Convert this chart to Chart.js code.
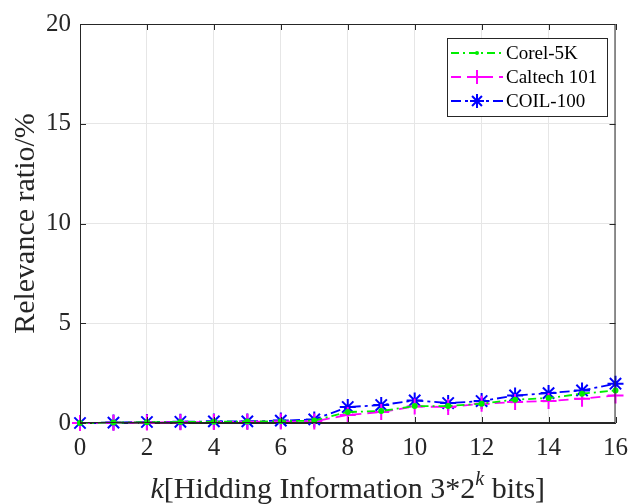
<!DOCTYPE html>
<html>
<head>
<meta charset="utf-8">
<script src="https://cdn.jsdelivr.net/npm/chart.js@4/dist/chart.umd.min.js"></script>
<style>
  html, body { margin: 0; padding: 0; background: #fff; }
  #wrap { width: 638px; height: 504px; }
</style>
</head>
<body>
<div id="wrap"><canvas id="chart" width="638" height="504"></canvas></div>
<script>
// k values on the x axis
const kValues = [0, 1, 2, 3, 4, 5, 6, 7, 8, 9, 10, 11, 12, 13, 14, 15, 16];

// relevance ratio (%) per dataset
const corel5k    = [0, 0.02, 0.04, 0.05, 0.06, 0.07, 0.09, 0.12, 0.55, 0.6, 0.85, 0.85, 0.97, 1.17, 1.25, 1.47, 1.63];
const caltech101 = [0, 0.01, 0.03, 0.04, 0.05, 0.06, 0.07, 0.08, 0.4, 0.55, 0.83, 0.8, 0.97, 1.05, 1.1, 1.22, 1.38];
const coil100    = [0, 0.02, 0.05, 0.06, 0.08, 0.08, 0.12, 0.18, 0.8, 0.9, 1.13, 1.0, 1.1, 1.38, 1.5, 1.63, 1.97];

const seriesNames = ["Corel-5K", "Caltech 101", "COIL-100"];
const xTicks = [0, 2, 4, 6, 8, 10, 12, 14, 16];
const yTicks = [0, 5, 10, 15, 20];

const SERIF = "'Liberation Serif', 'Times New Roman', serif";
const AXIS_COLOR = "#262626";

const toPoints = arr => arr.map((v, i) => ({ x: kValues[i], y: v }));

// draw a marker (used by the legend)
function drawMarker(ctx, style, x, y, r, color) {
    ctx.save();
    ctx.setLineDash([]);
    ctx.strokeStyle = color;
    ctx.fillStyle = color;
    ctx.lineWidth = 2;
    ctx.beginPath();
    if (style === "circle") {
        ctx.arc(x, y, r, 0, Math.PI * 2);
        ctx.fill();
    } else if (style === "cross") {
        ctx.moveTo(x - r, y); ctx.lineTo(x + r, y);
        ctx.moveTo(x, y - r); ctx.lineTo(x, y + r);
        ctx.stroke();
    } else if (style === "star") {
        for (let a = 0; a < 4; a++) {
            const ang = a * Math.PI / 4;
            ctx.moveTo(x - r * Math.cos(ang), y - r * Math.sin(ang));
            ctx.lineTo(x + r * Math.cos(ang), y + r * Math.sin(ang));
        }
        ctx.stroke();
    }
    ctx.restore();
}

// frame, inward ticks, axis titles and the legend
const decorations = {
    id: "decorations",
    afterDatasetsDraw(chart) {
        const { ctx, chartArea: a, scales } = chart;
        ctx.save();
        ctx.strokeStyle = AXIS_COLOR;
        ctx.lineWidth = 1;
        ctx.strokeRect(a.left + 0.5, a.top + 0.5, a.right - a.left - 1, a.bottom - a.top - 1);

        // inward ticks on all four sides
        ctx.beginPath();
        xTicks.forEach(t => {
            const px = Math.round(scales.x.getPixelForValue(t)) + 0.5;
            ctx.moveTo(px, a.bottom); ctx.lineTo(px, a.bottom - 6);
            ctx.moveTo(px, a.top); ctx.lineTo(px, a.top + 6);
        });
        yTicks.forEach(t => {
            const py = Math.round(scales.y.getPixelForValue(t)) + 0.5;
            ctx.moveTo(a.left, py); ctx.lineTo(a.left + 6, py);
            ctx.moveTo(a.right, py); ctx.lineTo(a.right - 6, py);
        });
        ctx.stroke();

        // y title
        ctx.fillStyle = AXIS_COLOR;
        ctx.font = "30px " + SERIF;
        ctx.textAlign = "center";
        ctx.textBaseline = "middle";
        ctx.translate(26, (a.top + a.bottom) / 2);
        ctx.rotate(-Math.PI / 2);
        ctx.fillText("Relevance ratio/%", 0, 0);
        ctx.restore();

        // x title with italic k and superscript
        ctx.save();
        ctx.fillStyle = AXIS_COLOR;
        ctx.textBaseline = "alphabetic";
        const parts = [
            { t: "k", f: "italic 30px " + SERIF, dy: 0 },
            { t: "[Hidding Information 3*2", f: "30px " + SERIF, dy: 0 },
            { t: "k", f: "italic 20px " + SERIF, dy: -13 },
            { t: " bits]", f: "30px " + SERIF, dy: 0 }
        ];
        let total = 0;
        parts.forEach(p => { ctx.font = p.f; p.w = ctx.measureText(p.t).width; total += p.w; });
        let x = (a.left + a.right) / 2 - total / 2;
        parts.forEach(p => {
            ctx.font = p.f;
            ctx.textAlign = "left";
            ctx.fillText(p.t, x, 498 + p.dy);
            x += p.w;
        });
        ctx.restore();

        // legend box
        ctx.save();
        const lx = 447, ly = 38, lw = 160, lh = 78;
        ctx.fillStyle = "#fff";
        ctx.fillRect(lx, ly, lw, lh);
        ctx.strokeStyle = AXIS_COLOR;
        ctx.lineWidth = 1;
        ctx.strokeRect(lx + 0.5, ly + 0.5, lw, lh);
        ctx.font = "19px " + SERIF;
        ctx.textBaseline = "middle";
        ctx.textAlign = "left";
        chart.data.datasets.forEach((ds, i) => {
            const y = ly + 15 + i * 24;
            ctx.save();
            ctx.strokeStyle = ds.borderColor;
            ctx.lineWidth = ds.borderWidth;
            ctx.setLineDash(ds.borderDash);
            ctx.beginPath();
            ctx.moveTo(lx + 4, y); ctx.lineTo(lx + 56, y);
            ctx.stroke();
            ctx.restore();
            drawMarker(ctx, ds.pointStyle, lx + 30, y, ds.pointStyle === "circle" ? 2 : 7, ds.borderColor);
            ctx.fillStyle = "#000";
            ctx.fillText(ds.label, lx + 59, y + 1);
        });
        ctx.restore();
    }
};

const makeDataset = (label, data, color, dash, style, radius) => ({
    label,
    data: toPoints(data),
    borderColor: color,
    backgroundColor: color,
    borderWidth: 1.8,
    borderDash: dash,
    pointStyle: style,
    pointRadius: radius,
    pointBorderWidth: 2,
    pointHoverRadius: radius,
    clip: false,
    tension: 0
});

new Chart(document.getElementById("chart"), {
    type: "line",
    data: {
        datasets: [
            makeDataset(seriesNames[0], corel5k, "#00ee00", [8, 4, 2, 4], "circle", 2),
            makeDataset(seriesNames[1], caltech101, "#ff00ff", [10, 6], "cross", 8),
            makeDataset(seriesNames[2], coil100, "#0000ff", [10, 4, 3, 4], "star", 8)
        ]
    },
    options: {
        responsive: false,
        devicePixelRatio: 1,
        animation: false,
        layout: { padding: { top: 22, right: 15, left: 0, bottom: 0 } },
        plugins: { legend: { display: false }, tooltip: { enabled: false } },
        scales: {
            x: {
                type: "linear",
                min: 0, max: 16,
                afterBuildTicks: s => { s.ticks = xTicks.map(v => ({ value: v })); },
                afterFit: s => { s.height = 81; },
                ticks: { font: { family: SERIF, size: 25 }, color: AXIS_COLOR, padding: 10, maxRotation: 0 },
                grid: { color: "#e6e6e6", drawTicks: false },
                border: { color: AXIS_COLOR }
            },
            y: {
                min: 0, max: 20,
                afterBuildTicks: s => { s.ticks = yTicks.map(v => ({ value: v })); },
                afterFit: s => { s.width = 80; },
                ticks: { font: { family: SERIF, size: 25 }, color: AXIS_COLOR, padding: 9 },
                grid: { color: "#e6e6e6", drawTicks: false },
                border: { color: AXIS_COLOR }
            }
        }
    },
    plugins: [decorations]
});
</script>
</body>
</html>
